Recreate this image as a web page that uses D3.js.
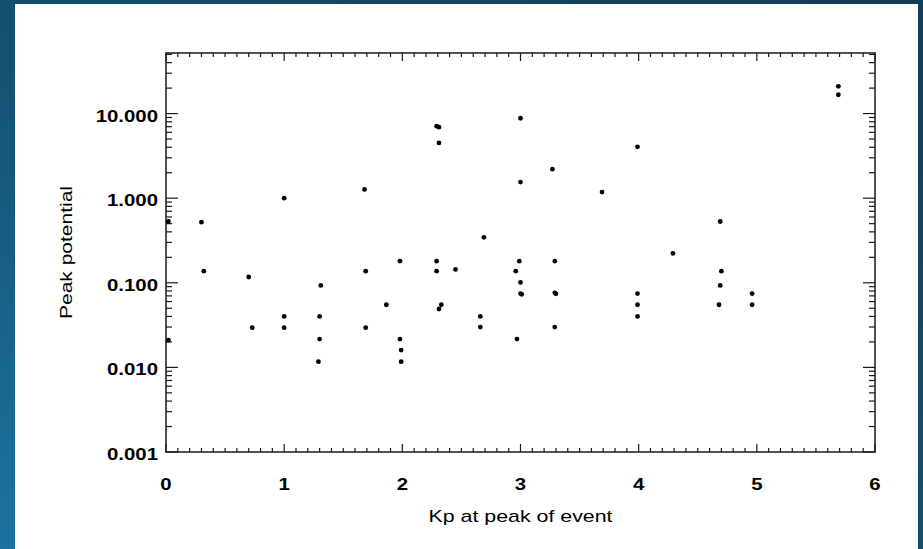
<!DOCTYPE html>
<html>
<head>
<meta charset="utf-8">
<style>
  html, body { margin: 0; padding: 0; }
  body { width: 923px; height: 549px; overflow: hidden; }
  svg { display: block; }
</style>
</head>
<body>
<script src="https://cdn.jsdelivr.net/npm/d3@7"></script>
<script>
  // Kp at peak of event vs peak potential
  var kp = [0.02, 0.02, 0.30, 0.32, 0.70, 0.73, 1.00, 1.00, 1.00,
            1.31, 1.30, 1.30, 1.29, 1.68, 1.69, 1.69, 1.865,
            1.98, 1.98, 1.99, 1.99, 2.29, 2.29, 2.29, 2.31, 2.31,
            2.33, 2.31, 2.45, 2.66, 2.66, 2.69, 2.96, 2.97, 2.99,
            3.00, 3.00, 3.01, 3.00, 3.00, 3.27, 3.29, 3.29, 3.30,
            3.29, 3.69, 3.99, 3.99, 3.99, 3.99, 4.29, 4.69, 4.70,
            4.69, 4.68, 4.96, 4.96, 5.69, 5.69];
  var potential = [0.53, 0.021, 0.52, 0.137, 0.117, 0.0295, 1.0, 0.040, 0.0295,
                   0.093, 0.040, 0.0216, 0.0117, 1.27, 0.137, 0.0295, 0.055,
                   0.18, 0.0216, 0.016, 0.0117, 0.18, 0.137, 7.1, 6.9, 4.5,
                   0.055, 0.049, 0.144, 0.040, 0.030, 0.345, 0.137, 0.0216, 0.18,
                   0.101, 0.0745, 0.073, 8.8, 1.55, 2.2, 0.18, 0.076, 0.074,
                   0.030, 1.18, 4.05, 0.0745, 0.055, 0.040, 0.223, 0.53, 0.137,
                   0.093, 0.055, 0.0745, 0.055, 21, 16.7];
  var xTicks = [0, 1, 2, 3, 4, 5, 6];
  var yTicks = [0.001, 0.01, 0.1, 1, 10];
  var yTickLabels = ["0.001", "0.010", "0.100", "1.000", "10.000"];

  var W = 923, H = 549;
  var box = {left: 166, right: 875, top: 53, bottom: 452};
  var font = "'Liberation Sans', Arial, Helvetica, sans-serif";
  var stretch = 1.2;   // the original lettering is a little wide

  var svg = d3.select("body").append("svg")
      .attr("width", W)
      .attr("height", H);

  var grad = svg.append("defs").append("linearGradient")
      .attr("id", "bg")
      .attr("x1", "100%").attr("y1", "0%")
      .attr("x2", "0%").attr("y2", "100%");
  grad.append("stop").attr("offset", "0%").attr("stop-color", "#123c58");
  grad.append("stop").attr("offset", "55%").attr("stop-color", "#155172");
  grad.append("stop").attr("offset", "100%").attr("stop-color", "#1c73a0");

  svg.append("rect").attr("width", W).attr("height", H).attr("fill", "url(#bg)");
  svg.append("rect")
      .attr("x", 15).attr("y", 4)
      .attr("width", 903).attr("height", H - 4)
      .attr("fill", "#fff");

  var x = d3.scaleLinear().domain([0, 6]).range([box.left, box.right]);
  var y = d3.scaleLog().domain([0.001, 52]).range([box.bottom, box.top]);

  var ink = "#1a1a1a";
  var g = svg.append("g");

  // x ticks, every 0.1, major on the integers
  var xMinor = d3.range(0, 61).map(function(i) { return i / 10; });
  xMinor.forEach(function(v, i) {
    var len = (i % 10 === 0) ? 8 : 4;
    var px = x(v);
    g.append("line").attr("x1", px).attr("x2", px)
        .attr("y1", box.bottom).attr("y2", box.bottom - len);
    g.append("line").attr("x1", px).attr("x2", px)
        .attr("y1", box.top).attr("y2", box.top + len);
  });

  // y ticks, 1..9 in every decade
  var yMinor = [];
  for (var e = -3; e <= 1; e++) {
    for (var m = 1; m <= 9; m++) {
      var v = m * Math.pow(10, e);
      if (v <= 52) yMinor.push({v: v, major: m === 1});
    }
  }
  yMinor.forEach(function(d) {
    var len = d.major ? 12 : 6;
    var py = y(d.v);
    g.append("line").attr("x1", box.left).attr("x2", box.left + len)
        .attr("y1", py).attr("y2", py);
    g.append("line").attr("x1", box.right).attr("x2", box.right - len)
        .attr("y1", py).attr("y2", py);
  });

  g.selectAll("line").attr("stroke", ink).attr("stroke-width", 1.2);

  g.append("rect")
      .attr("x", box.left).attr("y", box.top)
      .attr("width", box.right - box.left)
      .attr("height", box.bottom - box.top)
      .attr("fill", "none")
      .attr("stroke", ink)
      .attr("stroke-width", 1.5);

  // tick labels
  svg.append("g").selectAll("text")
      .data(xTicks)
      .enter().append("text")
      .attr("transform", function(d) {
        return "translate(" + x(d) + ",490) scale(" + stretch + ",1)";
      })
      .attr("text-anchor", "middle")
      .attr("font-family", font)
      .attr("font-weight", "bold")
      .attr("font-size", 17)
      .attr("fill", "#000")
      .text(function(d) { return d; });

  svg.append("g").selectAll("text")
      .data(yTicks)
      .enter().append("text")
      .attr("transform", function(d) {
        return "translate(158," + (y(d) + 8) + ") scale(" + stretch + ",1)";
      })
      .attr("text-anchor", "end")
      .attr("font-family", font)
      .attr("font-weight", "bold")
      .attr("font-size", 17)
      .attr("fill", "#000")
      .text(function(d, i) { return yTickLabels[i]; });

  // axis titles
  svg.append("text")
      .attr("x", (box.left + box.right) / 2)
      .attr("y", 522)
      .attr("text-anchor", "middle")
      .attr("font-family", font)
      .attr("font-size", 17)
      .attr("textLength", 184)
      .attr("lengthAdjust", "spacingAndGlyphs")
      .attr("fill", "#000")
      .text("Kp at peak of event");

  svg.append("text")
      .attr("transform", "translate(72," + (box.top + box.bottom) / 2 + ") rotate(-90)")
      .attr("text-anchor", "middle")
      .attr("font-family", font)
      .attr("font-size", 17)
      .attr("textLength", 133)
      .attr("lengthAdjust", "spacingAndGlyphs")
      .attr("fill", "#000")
      .text("Peak potential");

  // points
  var pts = kp.map(function(k, i) { return {kp: k, v: potential[i]}; });
  svg.append("g").selectAll("circle")
      .data(pts)
      .enter().append("circle")
      .attr("cx", function(d) { return x(d.kp); })
      .attr("cy", function(d) { return y(d.v); })
      .attr("r", 2.4)
      .attr("fill", "#000");
</script>
</body>
</html>
